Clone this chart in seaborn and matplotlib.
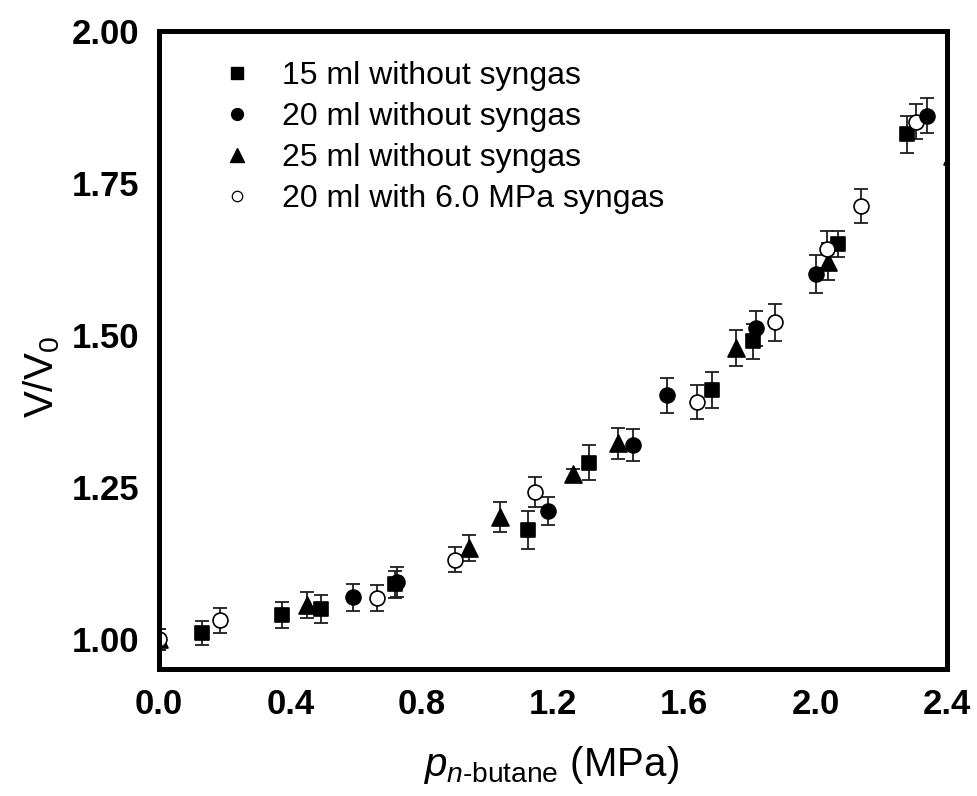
import matplotlib
matplotlib.use("Agg")
import matplotlib.pyplot as plt
from matplotlib.lines import Line2D
import seaborn as sns
import pandas as pd

# Swelling ratio V/V0 of the liquid phase versus n-butane partial pressure
sq_p = [0.13, 0.375, 0.495, 0.72, 1.125, 1.31, 1.683, 1.808, 2.069, 2.277]
sq_v = [1.01, 1.04, 1.05, 1.09, 1.18, 1.29, 1.41, 1.49, 1.65, 1.83]
sq_e = [0.02, 0.021, 0.023, 0.023, 0.031, 0.029, 0.030, 0.029, 0.022, 0.030]

ci_p = [0.592, 0.725, 1.186, 1.445, 1.546, 1.818, 2.001, 2.338]
ci_v = [1.069, 1.094, 1.211, 1.319, 1.401, 1.511, 1.601, 1.861]
ci_e = [0.022, 0.024, 0.023, 0.026, 0.029, 0.029, 0.031, 0.029]

tr_p = [0.0, 0.45, 0.945, 1.039, 1.26, 1.399, 1.756, 2.039, 2.416]
tr_v = [1.00, 1.056, 1.150, 1.201, 1.272, 1.322, 1.479, 1.621, 1.795]
tr_e = [0.017, 0.021, 0.022, 0.025, 0.008, 0.026, 0.030, 0.031, 0.008]

oc_p = [0.0, 0.186, 0.665, 0.902, 1.146, 1.639, 1.875, 2.036, 2.138, 2.306]
oc_v = [1.00, 1.031, 1.068, 1.131, 1.242, 1.390, 1.521, 1.641, 1.712, 1.851]
oc_e = [0.017, 0.020, 0.021, 0.021, 0.024, 0.028, 0.031, 0.030, 0.028, 0.029]

labels = ["15 ml without syngas", "20 ml without syngas",
          "25 ml without syngas", "20 ml with 6.0 MPa syngas"]
x_ticks = [0.0, 0.4, 0.8, 1.2, 1.6, 2.0, 2.4]
y_ticks = [1.00, 1.25, 1.50, 1.75, 2.00]

sns.set_theme(style="white")
plt.rcParams["font.family"] = ["Liberation Sans", "DejaVu Sans"]
plt.rcParams["text.color"] = "black"
plt.rcParams["axes.labelcolor"] = "black"
plt.rcParams["xtick.color"] = "black"
plt.rcParams["ytick.color"] = "black"
plt.rcParams["mathtext.fontset"] = "custom"
plt.rcParams["mathtext.rm"] = "Liberation Sans"
plt.rcParams["mathtext.it"] = "Liberation Sans:italic"
plt.rcParams["mathtext.bf"] = "Liberation Sans:bold"

fig = plt.figure(figsize=(9.77, 7.96), dpi=100)
ax = fig.add_axes([0.1627, 0.1595, 0.8066, 0.8015])

series = [
    (sq_p, sq_v, sq_e, "s", 88, "black"),
    (tr_p, tr_v, tr_e, "^", 150, "black"),
    (oc_p, oc_v, oc_e, "o", 115, "white"),
    (ci_p, ci_v, ci_e, "o", 115, "black"),
]

for p, v, e, mk, size, face in series:
    ax.errorbar(p, v, yerr=e, fmt="none", ecolor="#1e1e1e", elinewidth=1.3,
                capsize=5, capthick=1.3, zorder=2)
    df = pd.DataFrame({"p": p, "v": v})
    sns.scatterplot(data=df, x="p", y="v", marker=mk, s=size, color=face,
                    edgecolor="black", linewidth=1.2, ax=ax, zorder=3,
                    legend=False, clip_on=True)

ax.set_xlim(0.0, 2.4)
ax.set_ylim(0.951, 2.0)
ax.set_xticks(x_ticks)
ax.set_xticklabels([f"{t:.1f}" for t in x_ticks])
ax.set_yticks(y_ticks)
ax.set_yticklabels([f"{t:.2f}" for t in y_ticks])
ax.tick_params(length=0, pad=14, labelsize=25, colors="black")
for t in ax.get_xticklabels() + ax.get_yticklabels():
    t.set_fontweight("bold")

for s in ax.spines.values():
    s.set_visible(True)
    s.set_linewidth(3.6)
    s.set_color("black")
    s.set_zorder(4)
ax.grid(False)

ax.set_xlabel(r"$p_{n\text{-butane}}$ (MPa)", fontsize=29, color="black")
ax.set_ylabel(r"V/V$_0$", fontsize=29, color="black")
ax.xaxis.set_label_coords(0.4975, -0.118)
ax.xaxis.label.set_va("top")
ax.yaxis.set_label_coords(-0.123, 0.458)

handles = [
    Line2D([], [], ls="none", marker="s", ms=8.5, mfc="black", mec="black"),
    Line2D([], [], ls="none", marker="o", ms=8.5, mfc="black", mec="black"),
    Line2D([], [], ls="none", marker="^", ms=9.5, mfc="black", mec="black"),
    Line2D([], [], ls="none", marker="o", ms=7.5, mfc="white", mec="black",
           mew=0.9),
]
leg = ax.legend(handles, labels, loc="upper left",
                bbox_to_anchor=(0.062, 0.9725), frameon=False, fontsize=23,
                handlelength=1.0, handletextpad=0.93, labelspacing=0.34,
                borderaxespad=0.0)
for t in leg.get_texts():
    t.set_color("black")

fig.savefig("out.png", dpi=100, facecolor="white")
